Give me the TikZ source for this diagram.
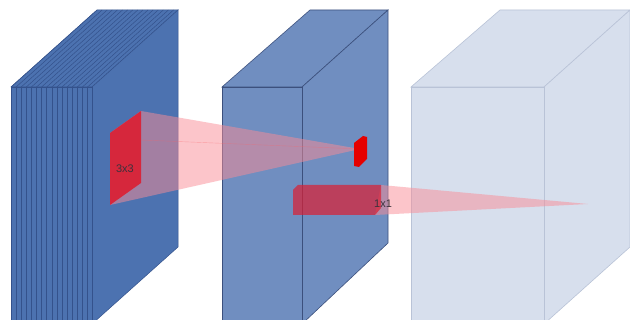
\documentclass[tikz,border=0pt]{standalone}
\usepackage{fontspec}
\setmainfont{Liberation Sans}
\definecolor{boxA}{RGB}{76,114,176}
\definecolor{boxAline}{RGB}{52,82,140}
\definecolor{boxB}{RGB}{112,142,192}
\definecolor{boxBline}{RGB}{60,80,125}
\definecolor{boxC}{RGB}{215,223,237}
\definecolor{boxCline}{RGB}{185,195,215}
\definecolor{patch}{RGB}{220,30,50}
\definecolor{cone}{RGB}{250,140,150}
\definecolor{lbl}{RGB}{60,50,60}
\tikzset{
  faceA/.style={fill=boxA,draw=boxAline,line width=0.5pt},
  faceB/.style={fill=boxB,draw=boxBline,line width=0.6pt},
  faceC/.style={fill=boxC,draw=boxCline,line width=0.6pt},
  conefill/.style={fill=cone,fill opacity=0.5,draw=none},
  patchfill/.style={fill=patch,fill opacity=0.9,draw=none},
  lab/.style={text=lbl,font=\fontsize{11}{12}\selectfont,inner sep=0pt}
}
\begin{document}
\begin{tikzpicture}[x=1pt,y=-1pt]
\useasboundingbox (0,0) rectangle (630,320);
\clip (0,0) rectangle (630,320);
\fill[white] (0,0) rectangle (630,320);
% ---- box 1 (stack of slices)
\path[faceA] (11,87) -- (97,10) -- (178,10) -- (92,87) -- cycle;
\path[faceA] (92,87) -- (178,10) -- (178,247) -- (92,324) -- cycle;
\path[faceA] (11,87) rectangle (92,324);
\foreach \i in {0,...,15}{
  \draw[boxAline,line width=0.5pt] ({11+5.1*\i},87) -- ({11+5.1*\i},324);
  \draw[boxAline,line width=0.5pt] ({11+5.1*\i},87) -- ({97+5.1*\i},10);
}
% ---- box 2
\path[faceB] (222,87) -- (310,10) -- (388,10) -- (302,87) -- cycle;
\path[faceB] (302,87) -- (388,10) -- (388,243) -- (302,324) -- cycle;
\path[faceB] (222,87) rectangle (302,324);
% cone 1
\path[conefill] (141,111) -- (360,149) -- (110,205) -- (110,133) -- cycle;
\draw[cone!70!red,opacity=0.4,line width=0.4pt] (141,140) -- (360,149);
% 3x3 patch
\path[patchfill] (110,133) -- (141,111) -- (141,183) -- (110,205) -- cycle;
\node[lab] (k3) at (125,169) {3x3};
% small patch
\path[fill=red!90!black] (354,143) -- (363,136) -- (367,137) -- (367,159) -- (359,167) -- (354,166) -- cycle;
% ---- box 3
\path[faceC] (411,87) -- (500,10) -- (630,10) -- (544,87) -- cycle;
\path[faceC] (544,87) -- (630,10) -- (630,247) -- (544,324) -- cycle;
\path[faceC] (411,87) rectangle (544,324);
% 1x1 bar and cone 2
\path[conefill] (381,185) -- (588,204) -- (375,215) -- cycle;
\path[fill=patch,fill opacity=0.7] (293,190) -- (298,185) -- (381,185) -- (381,208) -- (375,215) -- (293,215) -- cycle;
\node[lab] (k1) at (383,204) {1x1};
\end{tikzpicture}
\end{document}
